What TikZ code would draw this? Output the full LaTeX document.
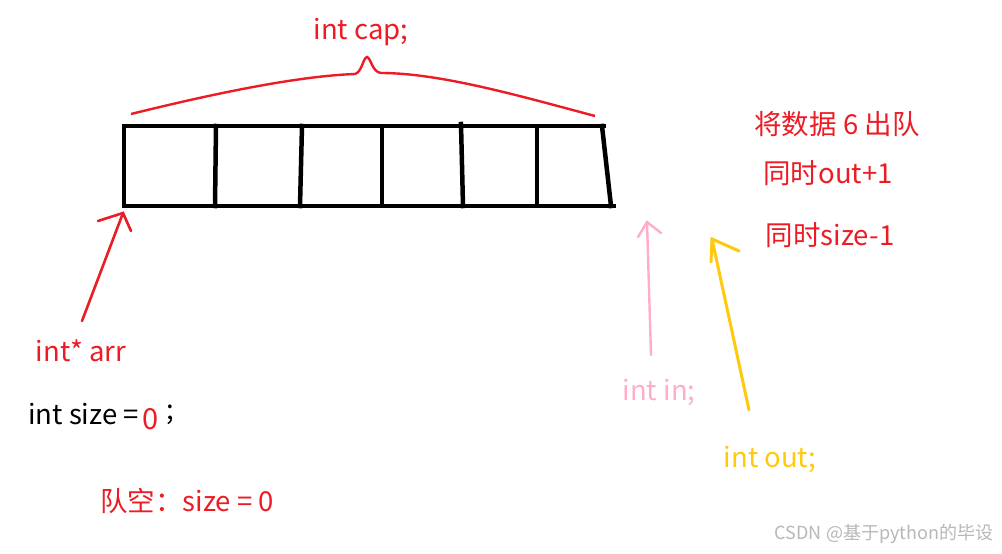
\documentclass[tikz,border=0pt]{standalone}
\usepackage{fontspec}
\setmainfont{Noto Sans CJK SC}
\definecolor{pred}{HTML}{ED1C24}
\definecolor{ppink}{HTML}{FFAEC9}
\definecolor{pyellow}{HTML}{FFC90E}
\definecolor{wgray}{HTML}{B8B8B8}
\begin{document}
\begin{tikzpicture}[x=1pt,y=-1pt,
  boxline/.style={line width=4.5pt,line cap=rect,black},
  redline/.style={line width=2.6pt,pred,line cap=round},
  pinkline/.style={line width=2.4pt,ppink,line cap=round},
  yelline/.style={line width=3pt,pyellow,line cap=round},
  lbl/.style={inner sep=0pt,font=\fontsize{27.5}{30}\selectfont}]
\useasboundingbox[fill=white] (0,0) rectangle (1002,554);
% array box
\coordinate (tl) at (124,126);
\coordinate (tr) at (604,126);
\coordinate (bl) at (124,206);
\coordinate (br) at (614,206);
\draw[boxline] (tl) -- (tr);
\draw[boxline] (bl) -- (br);
\draw[boxline] (tl) -- (bl);
\draw[boxline] (602,126) -- (611,206);
\draw[boxline] (216,126) -- (215,206);
\draw[boxline] (302,126) -- (300,206);
\draw[boxline] (382,126) -- (382,206);
\draw[boxline] (461,124) -- (463,206);
\draw[boxline] (537,126) -- (537,206);
% brace
\draw[redline,line width=2.4pt,line cap=butt] (131,114) .. controls (220,92) and (300,76) .. (355,74)
  .. controls (362,72) and (363,58) .. (367,57) .. controls (371,58) and (372,72) .. (381,73)
  .. controls (440,73) and (520,96) .. (595,116);
\node[lbl,pred] (cap) at (361,32) {int cap;};
% int* arr arrow
\node[lbl,pred] (arr) at (81,351) {int* arr};
\coordinate (arrtail) at (82,321);
\coordinate (arrtip) at (123,213);
\draw[redline] (arrtail) -- (arrtip);
\draw[redline] (98,221) -- (arrtip) -- (131,231);
% in arrow
\node[lbl,ppink] (in) at (659,392) {int in;};
\coordinate (intail) at (651,355);
\coordinate (intip) at (647,222);
\draw[pinkline] (intail) -- (intip);
\draw[pinkline] (638,237) -- (intip) -- (661,233);
% out arrow
\node[lbl,pyellow] (out) at (770,459) {int out;};
\coordinate (outtail) at (749,410);
\coordinate (outtip) at (712,239);
\draw[yelline] (outtail) -- (outtip);
\draw[yelline] (711,262) -- (outtip) -- (739,251);
% right texts
\node[lbl,pred] (t1) at (837,124) {将数据 6 出队};
\node[lbl,pred] (t2) at (828,173) {同时out+1};
\node[lbl,pred] (t3) at (830,235) {同时size-1};
% size line
\node[lbl,anchor=west] (size) at (28,414) {int size =};
\node[lbl,pred,anchor=west,font=\fontsize{29}{30}\selectfont] (zero) at (142,419) {0};
\node[lbl,anchor=west] (semi) at (166,415) {;};
\node[lbl,pred] (empty) at (187,501) {队空：size = 0};
% watermark
\node[inner sep=0pt,wgray,font=\fontsize{18}{20}\selectfont] (wm) at (884,534) {CSDN @基于python的毕设};
\end{tikzpicture}
\end{document}
